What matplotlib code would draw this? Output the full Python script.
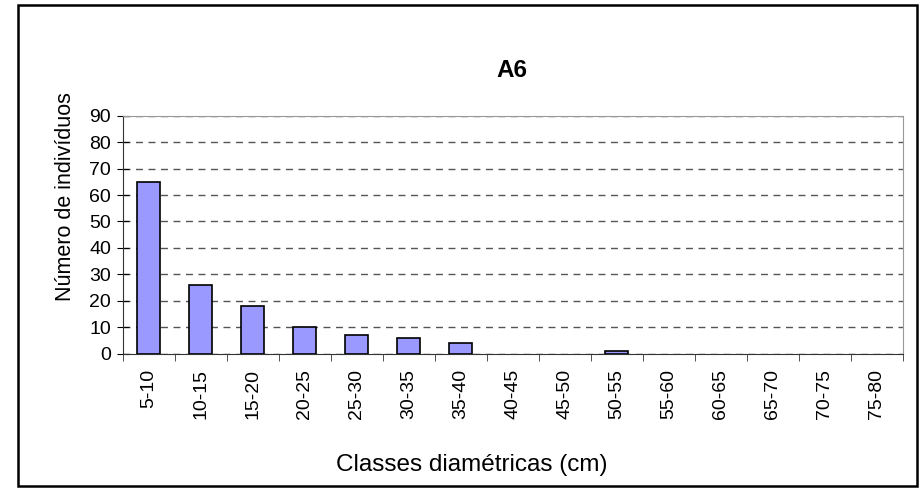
import matplotlib.pyplot as plt
from matplotlib.patches import Rectangle

# classes diametricas e numero de individuos
classes = ["5-10", "10-15", "15-20", "20-25", "25-30", "30-35", "35-40",
           "40-45", "45-50", "50-55", "55-60", "60-65", "65-70", "70-75", "75-80"]
individuos = [65, 26, 18, 10, 7, 6, 4, 0, 0, 1, 0, 0, 0, 0, 0]
yticks = list(range(0, 91, 10))

plt.rcParams['font.family'] = ['Liberation Sans', 'DejaVu Sans']

fig = plt.figure(figsize=(9.23, 4.9), dpi=100)
ax = fig.add_axes([0.133, 0.278, 0.845, 0.486])

pos = list(range(len(classes)))
# sem contorno nas classes vazias
larguras = [1.2 if v > 0 else 0 for v in individuos]
ax.bar(pos, individuos, width=0.44, color='#9999FF', edgecolor='black', linewidth=larguras, zorder=3)

ax.set_xlim(-0.5, len(classes) - 0.5)
ax.set_ylim(0, 90)
ax.set_yticks(yticks)
ax.tick_params(axis='y', direction='inout', length=9, labelsize=14, pad=4)

ax.set_xticks(pos)
ax.set_xticklabels(classes, rotation=90, fontsize=14)
ax.tick_params(axis='x', length=0, pad=11)
# ticks nas fronteiras das classes
ax.set_xticks([p - 0.5 for p in pos] + [len(classes) - 0.5], minor=True)
ax.tick_params(axis='x', which='minor', direction='out', length=5, color='#333333')

ax.grid(axis='y', linestyle=(0, (5, 4)), color='#555555', linewidth=1, zorder=0)
for s in ['top', 'right']:
    ax.spines[s].set_color('#999999')
for s in ['left', 'bottom']:
    ax.spines[s].set_color('#333333')

fig.text(0.0715, 0.599, "Número de indivíduos", fontsize=15.5, rotation=90,
         ha='center', va='center')
fig.text(0.511, 0.051, "Classes diamétricas (cm)", fontsize=17.5, ha='center', va='center')
fig.text(0.555, 0.857, "A6", fontsize=17.5, fontweight='bold', ha='center', va='center')

# moldura do grafico
fig.patches.append(Rectangle((0.020, 0.008), 0.974, 0.982, transform=fig.transFigure,
                             fill=False, edgecolor='black', linewidth=1.8))

fig.savefig("out.png", dpi=100)
